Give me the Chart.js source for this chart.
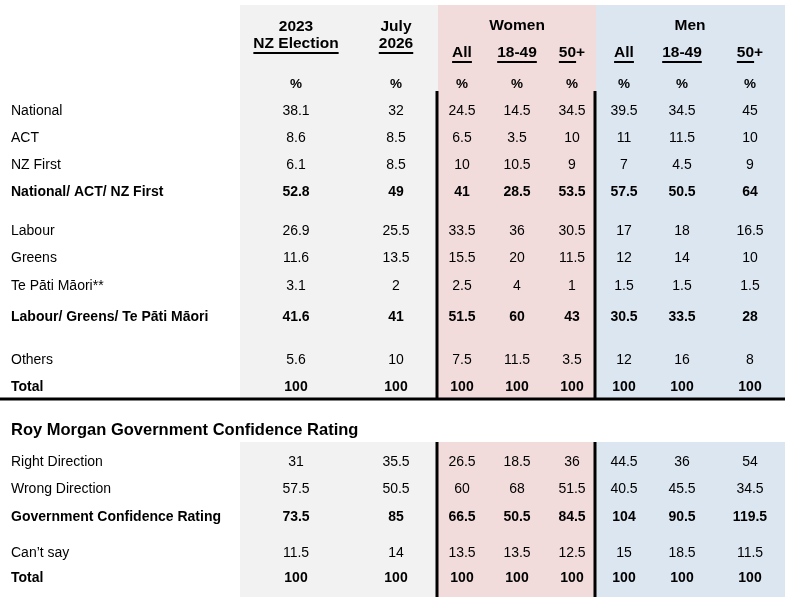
<!DOCTYPE html>
<html>
<head>
<meta charset="utf-8">
<script src="https://cdn.jsdelivr.net/npm/chart.js@4/dist/chart.umd.min.js"></script>
<style>
  html, body { margin: 0; padding: 0; background: #fff; }
  canvas { display: block; }
</style>
</head>
<body>
<canvas id="table" width="789" height="602"></canvas>
<script>
// voting intention rows
const partyLabels = [
  'National', 'ACT', 'NZ First', 'National/ ACT/ NZ First',
  'Labour', 'Greens', 'Te Pāti Māori**', 'Labour/ Greens/ Te Pāti Māori',
  'Others', 'Total',
];
const partyBold = [false, false, false, true, false, false, false, true, false, true];

const election2023 = [38.1, 8.6, 6.1, 52.8, 26.9, 11.6, 3.1, 41.6, 5.6, 100];
const july2026 = [32, 8.5, 8.5, 49, 25.5, 13.5, 2, 41, 10, 100];
const womenAll = [24.5, 6.5, 10, 41, 33.5, 15.5, 2.5, 51.5, 7.5, 100];
const women1849 = [14.5, 3.5, 10.5, 28.5, 36, 20, 4, 60, 11.5, 100];
const women50 = [34.5, 10, 9, 53.5, 30.5, 11.5, 1, 43, 3.5, 100];
const menAll = [39.5, 11, 7, 57.5, 17, 12, 1.5, 30.5, 12, 100];
const men1849 = [34.5, 11.5, 4.5, 50.5, 18, 14, 1.5, 33.5, 16, 100];
const men50 = [45, 10, 9, 64, 16.5, 10, 1.5, 28, 8, 100];

// government confidence rows
const confTitle = 'Roy Morgan Government Confidence Rating';
const confLabels = ['Right Direction', 'Wrong Direction', 'Government Confidence Rating', 'Can’t say', 'Total'];
const confBold = [false, false, true, false, true];

const conf2023 = [31, 57.5, 73.5, 11.5, 100];
const confJuly = [35.5, 50.5, 85, 14, 100];
const confWomenAll = [26.5, 60, 66.5, 13.5, 100];
const confWomen1849 = [18.5, 68, 50.5, 13.5, 100];
const confWomen50 = [36, 51.5, 84.5, 12.5, 100];
const confMenAll = [44.5, 40.5, 104, 15, 100];
const confMen1849 = [36, 45.5, 90.5, 18.5, 100];
const confMen50 = [54, 34.5, 119.5, 11.5, 100];

// column headers
const colTop = ['2023', 'July', '', '', '', '', '', ''];
const colSub = ['NZ Election', '2026', 'All', '18-49', '50+', 'All', '18-49', '50+'];
const groups = ['Women', 'Men'];

// layout (pixel units of the hidden linear scales)
const colX = [296, 396, 462, 517, 572, 624, 682, 750];
const partyY = [111, 138, 165, 192, 231, 258, 286, 317, 360, 387];
const confY = [462, 489, 517, 553, 578];
const FONT = '"Liberation Sans", Arial, sans-serif';

const partyCols = [election2023, july2026, womenAll, women1849, women50, menAll, men1849, men50];
const confCols = [conf2023, confJuly, confWomenAll, confWomen1849, confWomen50, confMenAll, confMen1849, confMen50];

const datasets = [];
partyCols.forEach((col, c) => {
  datasets.push({
    data: col.map((v, r) => ({ x: colX[c], y: partyY[r] })),
    texts: col.map(String),
    bold: partyBold,
    pointRadius: 0,
  });
});
confCols.forEach((col, c) => {
  datasets.push({
    data: col.map((v, r) => ({ x: colX[c], y: confY[r] })),
    texts: col.map(String),
    bold: confBold,
    pointRadius: 0,
  });
});

const tablePlugin = {
  id: 'tablePlugin',
  beforeDatasetsDraw(chart) {
    const { ctx, scales: { x, y } } = chart;
    const rect = (x0, y0, x1, y1, color) => {
      ctx.fillStyle = color;
      ctx.fillRect(x.getPixelForValue(x0), y.getPixelForValue(y0),
        x.getPixelForValue(x1) - x.getPixelForValue(x0), y.getPixelForValue(y1) - y.getPixelForValue(y0));
    };
    ctx.save();
    // shaded column bands for both blocks
    [[5, 399], [442, 597]].forEach(([top, bottom]) => {
      rect(240, top, 438, bottom, '#f2f2f2');
      rect(438, top, 596, bottom, '#f2dcdb');
      rect(596, top, 785, bottom, '#dce6f1');
    });
    // heavy rules
    rect(435.5, 91, 438.5, 399, '#000');
    rect(593.5, 91, 596.5, 399, '#000');
    rect(435.5, 442, 438.5, 597, '#000');
    rect(593.5, 442, 596.5, 597, '#000');
    rect(0, 397.5, 785, 400.5, '#000');
    ctx.restore();
  },
  afterDatasetsDraw(chart) {
    const { ctx, scales: { x, y } } = chart;
    ctx.save();
    ctx.fillStyle = '#000';
    ctx.textBaseline = 'middle';

    const text = (str, px, py, align, font, underline, ulWidthStr) => {
      ctx.font = font;
      ctx.textAlign = align;
      const xp = x.getPixelForValue(px);
      const yp = y.getPixelForValue(py);
      ctx.fillText(str, xp, yp);
      if (underline) {
        const w = ctx.measureText(str).width;
        const uw = ctx.measureText(ulWidthStr || str).width;
        const left = xp - w / 2;
        ctx.fillRect(left, yp + 8, uw, 2);
      }
    };

    // headers
    const hFont = `bold 15.5px ${FONT}`;
    colX.forEach((cx, c) => {
      if (colTop[c]) {
        text(colTop[c], cx, 27, 'center', hFont);
        text(colSub[c], cx, 44, 'center', hFont, true);
      } else {
        text(colSub[c], cx, 53, 'center', hFont, true, colSub[c].replace('+', ''));
      }
      text('%', cx, 84, 'center', `bold 13.5px ${FONT}`);
    });
    text(groups[0], 517, 26, 'center', hFont);
    text(groups[1], 690, 26, 'center', hFont);

    // row labels
    partyLabels.forEach((l, r) => {
      text(l, 11, partyY[r], 'left', `${partyBold[r] ? 'bold ' : ''}14px ${FONT}`);
    });
    text(confTitle, 11, 430, 'left', `bold 16.5px ${FONT}`);
    confLabels.forEach((l, r) => {
      text(l, 11, confY[r], 'left', `${confBold[r] ? 'bold ' : ''}14px ${FONT}`);
    });

    // cell values, placed at each point of each dataset
    chart.data.datasets.forEach((ds, i) => {
      chart.getDatasetMeta(i).data.forEach((pt, r) => {
        ctx.font = `${ds.bold[r] ? 'bold ' : ''}14px ${FONT}`;
        ctx.textAlign = 'center';
        ctx.fillText(ds.texts[r], pt.x, pt.y);
      });
    });
    ctx.restore();
  },
};

new Chart(document.getElementById('table'), {
  type: 'scatter',
  data: { datasets },
  options: {
    responsive: false,
    animation: false,
    layout: { padding: 0 },
    plugins: {
      legend: { display: false },
      tooltip: { enabled: false },
    },
    scales: {
      x: { type: 'linear', min: 0, max: 789, display: false },
      y: { type: 'linear', min: 0, max: 602, reverse: true, display: false },
    },
  },
  plugins: [tablePlugin],
});
</script>
</body>
</html>
